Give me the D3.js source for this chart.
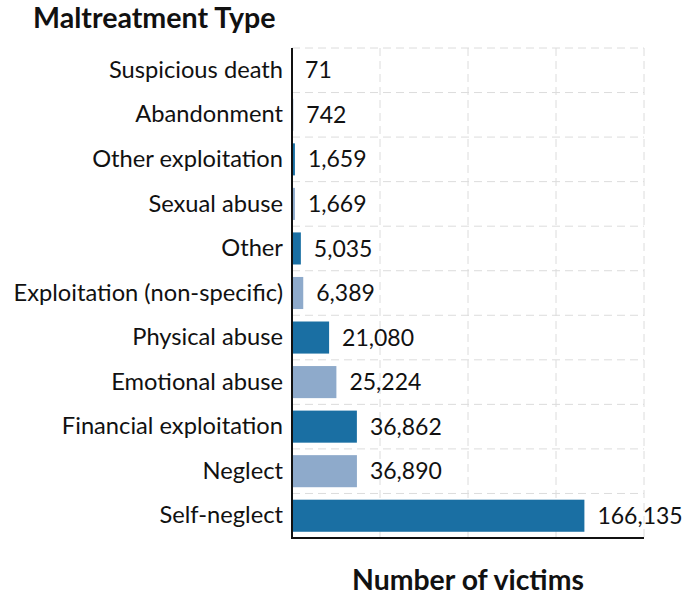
<!DOCTYPE html>
<html>
<head>
<meta charset="utf-8">
<script src="https://cdn.jsdelivr.net/npm/d3@7"></script>
<style>
  body { margin: 0; background: #fff; }
  text { font-family: Lato, "Open Sans", sans-serif; fill: #111; }
</style>
</head>
<body>
<div id="chart"></div>
<script>
var categories = ["Suspicious death", "Abandonment", "Other exploitation", "Sexual abuse", "Other",
                  "Exploitation (non-specific)", "Physical abuse", "Emotional abuse",
                  "Financial exploitation", "Neglect", "Self-neglect"];
var victims = [71, 742, 1659, 1669, 5035, 6389, 21080, 25224, 36862, 36890, 166135];
var gridTicks = [50000, 100000, 150000, 200000];
var barColors = ["#1a6fa3", "#8eaacb"];

var width = 699,
    height = 598,
    margin = {top: 48, right: 55, bottom: 60, left: 292},
    labelFont = "Lato, \"Open Sans\", sans-serif";

var svg = d3.select("#chart").append("svg")
            .attr("width", width)
            .attr("height", height);

var x = d3.scaleLinear()
          .domain([0, 200000])
          .range([margin.left, width - margin.right]);

var y = d3.scaleBand()
          .domain(categories)
          .range([margin.top, height - margin.bottom])
          .paddingInner(0.28)
          .paddingOuter(0.14);

var step = y.step();

// dashed grid: horizontal lines between rows, vertical ones every 50k
var grid = svg.append("g").attr("class", "grid")
              .attr("stroke", "#dcdcdc")
              .attr("stroke-dasharray", "8,5");

grid.selectAll(".hline")
    .data(d3.range(categories.length))
    .enter().append("line")
    .attr("class", "hline")
    .attr("x1", x(0))
    .attr("x2", x(200000))
    .attr("y1", function(i) { return margin.top + i * step; })
    .attr("y2", function(i) { return margin.top + i * step; });

grid.selectAll(".vline")
    .data(gridTicks)
    .enter().append("line")
    .attr("class", "vline")
    .attr("x1", function(d) { return x(d); })
    .attr("x2", function(d) { return x(d); })
    .attr("y1", margin.top)
    .attr("y2", height - margin.bottom);

// bars
svg.selectAll(".bar")
   .data(victims)
   .enter().append("rect")
   .attr("class", "bar")
   .attr("x", x(0))
   .attr("y", function(d, i) { return y(categories[i]); })
   .attr("height", y.bandwidth())
   .attr("width", function(d) { return x(d) - x(0); })
   .attr("fill", function(d, i) { return barColors[i % 2]; });

// value labels
svg.selectAll(".val")
   .data(victims)
   .enter().append("text")
   .attr("class", "val")
   .attr("x", function(d) { return x(d) + 13; })
   .attr("y", function(d, i) { return y(categories[i]) + y.bandwidth() / 2; })
   .attr("dy", "0.35em")
   .style("font-size", "23px")
   .text(d3.format(","));

// category labels
var yAxis = svg.append("g")
               .attr("transform", "translate(" + margin.left + ",0)")
               .call(d3.axisLeft(y).tickSize(0).tickPadding(9));
yAxis.select(".domain").remove();
yAxis.selectAll("text")
     .style("font-family", labelFont)
     .style("font-size", "23.7px")
     .attr("fill", "#111");

// axis lines
svg.append("line")
   .attr("x1", x(0)).attr("x2", x(0))
   .attr("y1", margin.top).attr("y2", height - margin.bottom)
   .attr("stroke", "#111").attr("stroke-width", 2);
svg.append("line")
   .attr("x1", x(0) - 1).attr("x2", x(200000))
   .attr("y1", height - margin.bottom).attr("y2", height - margin.bottom)
   .attr("stroke", "#111").attr("stroke-width", 2);

// titles
svg.append("text")
   .attr("x", 33)
   .attr("y", 28)
   .style("font-size", "28.6px")
   .style("font-weight", "bold")
   .attr("fill", "#222")
   .text("Maltreatment Type");

svg.append("text")
   .attr("x", (x(0) + x(200000)) / 2)
   .attr("y", 590)
   .attr("text-anchor", "middle")
   .style("font-size", "28.4px")
   .style("font-weight", "bold")
   .attr("fill", "#222")
   .text("Number of victims");
</script>
</body>
</html>
